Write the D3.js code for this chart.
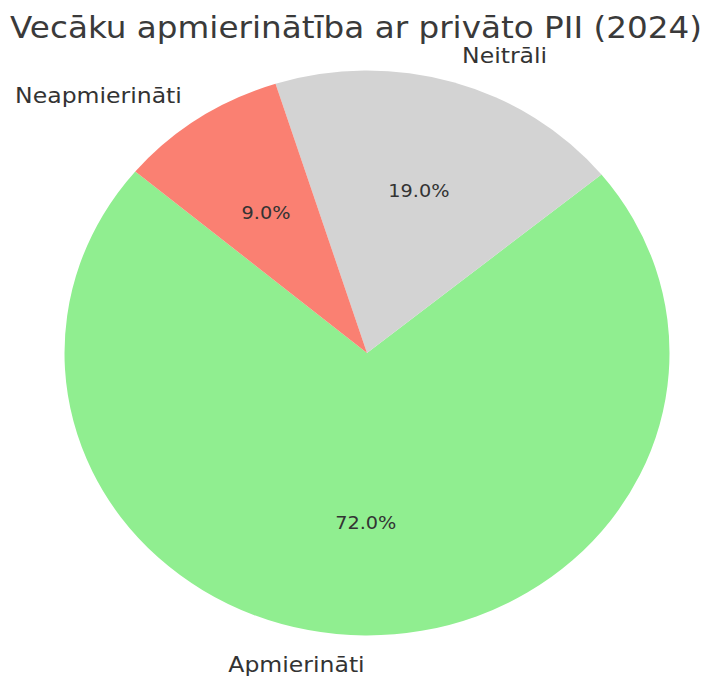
<!DOCTYPE html>
<html>
<head>
<meta charset="utf-8">
<script src="https://cdn.jsdelivr.net/npm/d3@7"></script>
<style>
  html, body { margin: 0; padding: 0; background: #fff; }
  text { font-family: "DejaVu Sans", sans-serif; fill: #333; }
</style>
</head>
<body>
<svg id="chart" width="708" height="676"></svg>
<script>
// Survey answers and their shares (%)
const categories = ["Apmierināti", "Neitrāli", "Neapmierināti"];
const values = [72, 19, 9];
const colors = ["#90EE90", "#D3D3D3", "#FA8072"];
const title = "Vecāku apmierinātība ar privāto PII (2024)";

const W = 708, H = 676;
const cx = 367, cy = 353;
const R = 282.5;            // vertical radius
const sx = 302.5 / 282.5;   // horizontal stretch of the figure

const svg = d3.select("#chart");

// Slices start at 140° (from 3 o'clock) and run counter-clockwise
const toRad = Math.PI / 180;
const pie = d3.pie()
  .sort(null)
  .value(d => d)
  .startAngle((90 - 140) * toRad)
  .endAngle((90 - 140 - 360) * toRad);

const arcs = pie(values);
const arc = d3.arc().innerRadius(0).outerRadius(R);
const pctArc = d3.arc().innerRadius(0.6 * R).outerRadius(0.6 * R);
const lblArc = d3.arc().innerRadius(1.1 * R).outerRadius(1.1 * R);

const g = svg.append("g")
  .attr("transform", `translate(${cx},${cy}) scale(${sx},1)`);

g.selectAll("path.slice")
  .data(arcs)
  .join("path")
  .attr("class", "slice")
  .attr("d", arc)
  .attr("fill", (d, i) => colors[i]);

// Percentages inside the slices
g.selectAll("text.pct")
  .data(arcs)
  .join("text")
  .attr("class", "pct")
  .attr("transform", d => `translate(${pctArc.centroid(d)})`)
  .attr("text-anchor", "middle")
  .attr("dy", "0.36em")
  .style("font-size", "18px")
  .text(d => d3.format(".1f")(d.data) + "%");

// Category names outside the pie
g.selectAll("text.cat")
  .data(arcs)
  .join("text")
  .attr("class", "cat")
  .attr("transform", d => `translate(${lblArc.centroid(d)})`)
  .attr("text-anchor", d => lblArc.centroid(d)[0] > 0 ? "start" : "end")
  .attr("dy", "0.36em")
  .style("font-size", "22px")
  .text((d, i) => categories[i]);

// Title
svg.append("g")
  .attr("transform", `translate(356,38) scale(${sx},1)`)
  .append("text")
  .attr("text-anchor", "middle")
  .style("font-size", "30.5px")
  .style("fill", "#3a3a3a")
  .text(title);
</script>
</body>
</html>
